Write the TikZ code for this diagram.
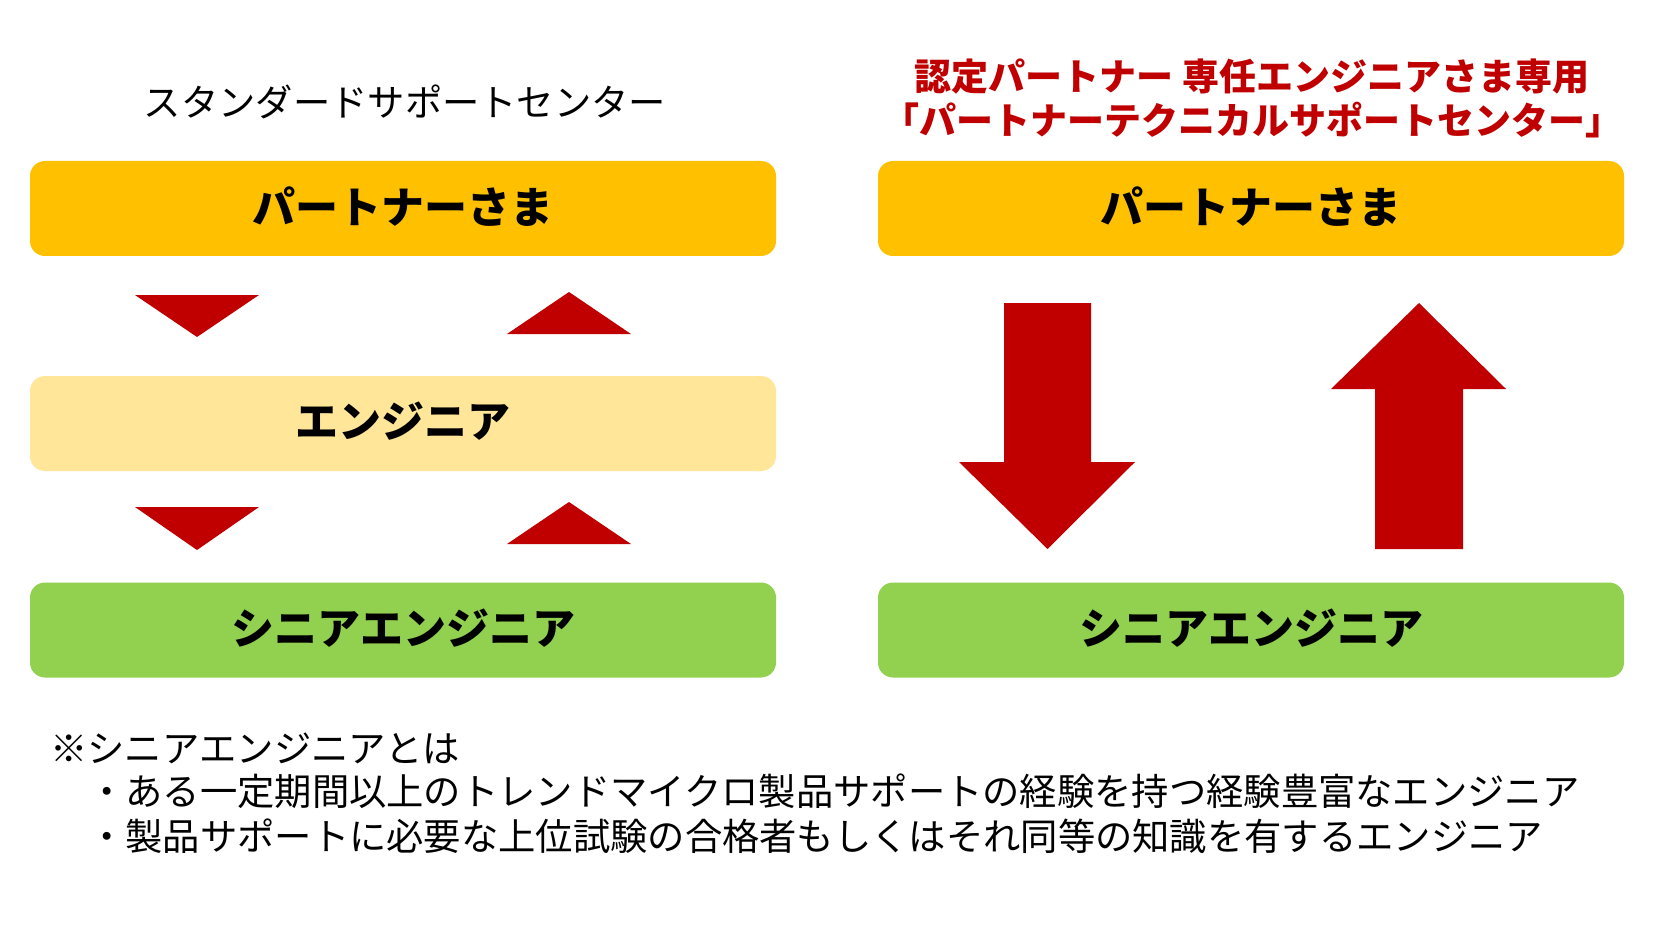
\documentclass[tikz,border=0pt]{standalone}
\usepackage{fontspec}
\setmainfont{Noto Sans CJK JP}
\definecolor{ored}{HTML}{C00000}
\definecolor{boxorange}{HTML}{FFC000}
\definecolor{boxlight}{HTML}{FFE699}
\definecolor{boxgreen}{HTML}{92D050}
\newcommand{\boxtext}[1]{\raisebox{7pt}{#1}}
\begin{document}
\begin{tikzpicture}[x=1pt,y=-1pt,
  box/.style={rounded corners=15pt, inner sep=0pt, minimum width=746pt, minimum height=95pt,
              font=\fontsize{43}{50}\selectfont\bfseries, text=black},
  thin text/.style={font=\fontsize{37.3}{44}\selectfont, text=black, inner sep=0pt},
  redmark/.style={fill=ored}]
\useasboundingbox (0,0) rectangle (1667,925);
\fill[white] (0,0) rectangle (1667,925);

% titles
\node[thin text] (lt) at (405,102) {スタンダードサポートセンター};
\node[font=\fontsize{37}{44}\selectfont\bfseries, text=ored, align=center, inner sep=0pt] (rt) at (1252,98)
  {認定パートナー 専任エンジニアさま専用\\「パートナーテクニカルサポートセンター」};

% left column
\node[box, fill=boxorange] (lp) at (403,208.5) {\boxtext{パートナーさま}};
\node[box, fill=boxlight] (le) at (403,423.5) {\boxtext{エンジニア}};
\node[box, fill=boxgreen] (ls) at (403,630) {\boxtext{シニアエンジニア}};

% right column
\node[box, fill=boxorange] (rp) at (1251,208.5) {\boxtext{パートナーさま}};
\node[box, fill=boxgreen] (rs) at (1251,630) {\boxtext{シニアエンジニア}};

% small triangles
\fill[redmark] (135,295) -- (259,295) -- (197,337) -- cycle;
\fill[redmark] (569,292) -- (631,334) -- (507,334) -- cycle;
\fill[redmark] (135,507) -- (259,507) -- (197,550) -- cycle;
\fill[redmark] (569,502) -- (631,544) -- (507,544) -- cycle;

% block arrows
\fill[redmark] (1004,303) -- (1091,303) -- (1091,462) -- (1135,462) -- (1047.5,549) -- (959,462) -- (1004,462) -- cycle;
\fill[redmark] (1419,303) -- (1506,389) -- (1463,389) -- (1463,549) -- (1375,549) -- (1375,389) -- (1331,389) -- cycle;

% footnote
\node[thin text, anchor=west] (n1) at (50,748) {※シニアエンジニアとは};
\node[thin text, anchor=west] (n2) at (88,791) {・ある一定期間以上のトレンドマイクロ製品サポートの経験を持つ経験豊富なエンジニア};
\node[thin text, anchor=west] (n3) at (88,836) {・製品サポートに必要な上位試験の合格者もしくはそれ同等の知識を有するエンジニア};
\end{tikzpicture}
\end{document}
